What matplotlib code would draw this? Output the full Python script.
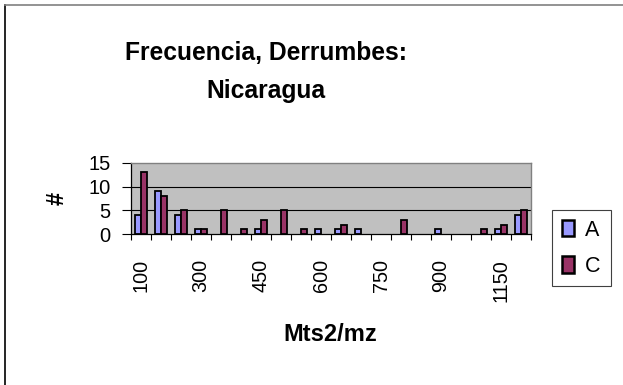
import matplotlib
matplotlib.use("Agg")
import matplotlib.pyplot as plt
from matplotlib.patches import Patch
from matplotlib.lines import Line2D
import numpy as np

plt.rcParams['font.family'] = ['Liberation Sans', 'DejaVu Sans']

categories = [100, 150, 200, 300, 350, 400, 450, 500, 550, 600,
              650, 700, 750, 800, 850, 900, 1000, 1100, 1150, 1200]
series_A = [4, 9, 4, 1, 0, 0, 1, 0, 0, 1, 1, 1, 0, 0, 0, 1, 0, 0, 1, 4]
series_C = [13, 8, 5, 1, 5, 1, 3, 5, 1, 0, 2, 0, 0, 3, 0, 0, 0, 1, 2, 5]
label_every = 3
y_ticks = [0, 5, 10, 15]
title_lines = ["Frecuencia, Derrumbes:", "Nicaragua"]
x_title = "Mts2/mz"
y_title = "#"

W, H = 623, 385
fig = plt.figure(figsize=(W / 100, H / 100), dpi=100)
fig.patch.set_facecolor('white')

ax = fig.add_axes([131 / W, 1 - 234 / H, 400 / W, 71 / H])
ax.set_facecolor('#C0C0C0')

x = np.arange(len(categories))
bw = 0.3
a = np.array(series_A)
c = np.array(series_C)
ma = a > 0
mc = c > 0
ax.bar(x[ma] - bw / 2 - 0.02, a[ma], width=bw, color='#9999FF', edgecolor='black', linewidth=1.3, zorder=3)
ax.bar(x[mc] + bw / 2 - 0.02, c[mc], width=bw, color='#993366', edgecolor='black', linewidth=1.3, zorder=3)

ax.set_xlim(-0.5, len(categories) - 0.5)
ax.set_ylim(0, 15)
ax.set_yticks(y_ticks)
ax.set_yticklabels([str(v) for v in y_ticks], fontsize=14.5)
for v in y_ticks[1:-1]:
    ax.axhline(v, color='black', linewidth=0.8, zorder=1)

ax.set_xticks(x)
ax.set_xticklabels([str(cat) if i % label_every == 0 else '' for i, cat in enumerate(categories)],
                   rotation=90, fontsize=14.3)
ax.set_xticks(np.arange(len(categories) + 1) - 0.5, minor=True)
ax.tick_params(axis='x', which='major', length=0, pad=18)
ax.tick_params(axis='x', which='minor', length=4.5, width=0.8, color='black', direction='out')
ax.tick_params(axis='y', which='major', length=6.5, width=0.8, color='black', direction='out', pad=8)

for s in ['left', 'bottom']:
    ax.spines[s].set_color('black')
    ax.spines[s].set_linewidth(0.9)
for s in ['top', 'right']:
    ax.spines[s].set_color('#808080')
    ax.spines[s].set_linewidth(1.0)

fig.text(266 / W, 1 - 60 / H, title_lines[0], ha='center', va='baseline', fontsize=17.7, fontweight='bold')
fig.text(266 / W, 1 - 98 / H, title_lines[1], ha='center', va='baseline', fontsize=17.7, fontweight='bold')
fig.text(330 / W, 1 - 341 / H, x_title, ha='center', va='baseline', fontsize=17, fontweight='bold')
fig.text(57 / W, 1 - 198 / H, y_title, ha='center', va='center', rotation=90, fontsize=17, fontweight='bold')

handles = [Patch(facecolor='#9999FF', edgecolor='black', linewidth=1.8, label='A'),
           Patch(facecolor='#993366', edgecolor='black', linewidth=1.8, label='C')]
leg = fig.legend(handles=handles, loc='upper left', bbox_to_anchor=(552 / W, 1 - 210 / H),
                 fontsize=15.5, frameon=True, fancybox=False, framealpha=1,
                 edgecolor='#404040', borderpad=0.45, labelspacing=0.7,
                 handlelength=0.55, handleheight=0.8, handletextpad=0.55, borderaxespad=0)
leg.get_frame().set_linewidth(0.8)

fig.add_artist(Line2D([5 / W, 5 / W], [0, 1 - 5 / H], color='black', linewidth=1.2))
fig.add_artist(Line2D([5 / W, 1], [1 - 5 / H, 1 - 5 / H], color='#808080', linewidth=1.2))

fig.savefig('out.png', dpi=100)
